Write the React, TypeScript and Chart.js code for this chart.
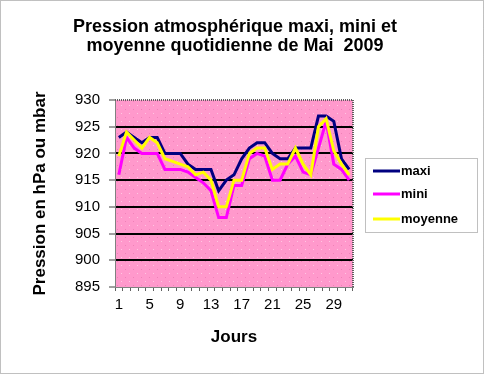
import React, { useEffect, useRef } from "react";
import { Chart, registerables } from "chart.js";

Chart.register(...registerables);

const days: string[] = Array.from({ length: 31 }, (_, i) => String(i + 1));
const maxi: number[] = [923, 924, 923, 922, 923, 923, 920, 920, 920, 918, 917, 917, 917, 913, 915, 916, 919, 921, 922, 922, 920, 919, 919, 921, 921, 921, 927, 927, 926, 919, 917];
const mini: number[] = [916, 923, 921, 920, 920, 920, 917, 917, 917, 916.5, 915.5, 914.5, 913, 908, 908, 914, 914, 919, 920, 919.5, 915, 915, 918, 919.5, 916.5, 916, 921, 926, 918, 917, 915];
const moyenne: number[] = [919.5, 924, 922.5, 921, 923, 922, 919, 918.5, 918, 917.5, 916, 916.5, 915, 910, 910, 915, 915, 920, 921, 921, 917, 918, 918, 921, 918, 916, 925, 926.5, 920.5, 918, 916];
const seriesLabels: string[] = ["maxi", "mini", "moyenne"];
const titleLines: string[] = ["Pression atmosphérique maxi, mini et", "moyenne quotidienne de Mai  2009"];
const yTitle = "Pression en hPa ou mbar";
const xTitle = "Jours";

const FONT = "'Liberation Sans', Arial, sans-serif";

function makePattern(ctx: CanvasRenderingContext2D) {
  const c = document.createElement("canvas");
  c.width = 8;
  c.height = 8;
  const p = c.getContext("2d")!;
  p.fillStyle = "#FF99CC";
  p.fillRect(0, 0, 8, 8);
  p.fillStyle = "#FFC6E2";
  p.fillRect(1, 1, 1, 1);
  p.fillStyle = "#F080B8";
  p.fillRect(5, 5, 1, 1);
  return ctx.createPattern(c, "repeat");
}

const decorPlugin = {
  id: "decor",
  beforeDraw(chart: any) {
    const { ctx, chartArea: a, width, height } = chart;
    ctx.save();
    ctx.fillStyle = "#FFFFFF";
    ctx.fillRect(0, 0, width, height);
    ctx.strokeStyle = "#808080";
    ctx.lineWidth = 1;
    ctx.setLineDash([1, 1]);
    ctx.strokeRect(0.5, 0.5, width - 1, height - 1);
    ctx.setLineDash([]);
    const pat = makePattern(ctx);
    ctx.fillStyle = pat || "#FF99CC";
    ctx.fillRect(a.left, a.top, a.right - a.left, a.bottom - a.top);
    // title
    ctx.fillStyle = "#000000";
    ctx.font = `bold 18px ${FONT}`;
    ctx.textAlign = "center";
    ctx.textBaseline = "alphabetic";
    ctx.fillText(titleLines[0], 235, 31.5);
    ctx.fillText(titleLines[1], 235, 51);
    ctx.restore();
  },
  afterDraw(chart: any) {
    const { ctx, chartArea: a } = chart;
    ctx.save();
    ctx.strokeStyle = "#606060";
    ctx.lineWidth = 2;
    ctx.setLineDash([1, 1]);
    ctx.beginPath();
    ctx.moveTo(a.left, a.top);
    ctx.lineTo(a.right, a.top);
    ctx.lineTo(a.right, a.bottom);
    ctx.stroke();
    ctx.setLineDash([]);
    // legend
    const bx = 365, by = 158, bw = 112, bh = 74;
    ctx.fillStyle = "#FFFFFF";
    ctx.fillRect(bx, by, bw, bh);
    ctx.strokeStyle = "#808080";
    ctx.lineWidth = 1;
    ctx.setLineDash([1, 1]);
    ctx.strokeRect(bx + 0.5, by + 0.5, bw, bh);
    ctx.setLineDash([]);
    const rows = [171, 194, 219];
    chart.data.datasets.forEach((ds: any, i: number) => {
      const y = rows[i];
      ctx.strokeStyle = ds.borderColor;
      ctx.lineWidth = 3;
      ctx.beginPath();
      ctx.moveTo(373, y);
      ctx.lineTo(400, y);
      ctx.stroke();
      ctx.fillStyle = "#000000";
      ctx.font = `bold 13px ${FONT}`;
      ctx.textBaseline = "middle";
      ctx.textAlign = "left";
      ctx.fillText(ds.label, 401, y);
    });
    ctx.restore();
  },
};

export default function App() {
  const ref = useRef<HTMLCanvasElement>(null);
  useEffect(() => {
    if (!ref.current) return;
    const chart = new Chart(ref.current, {
      type: "line",
      data: {
        labels: days,
        datasets: [
          { label: seriesLabels[0], data: maxi, borderColor: "#000080", backgroundColor: "#000080", borderWidth: 3, pointRadius: 0, tension: 0, order: 2 },
          { label: seriesLabels[1], data: mini, borderColor: "#FF00FF", backgroundColor: "#FF00FF", borderWidth: 3, pointRadius: 0, tension: 0, order: 1 },
          { label: seriesLabels[2], data: moyenne, borderColor: "#FFFF00", backgroundColor: "#FFFF00", borderWidth: 3, pointRadius: 0, tension: 0, order: 0 },
        ],
      },
      options: {
        animation: false,
        responsive: false,
        devicePixelRatio: 1,
        layout: { padding: { left: 0, right: 131, top: 100, bottom: 0 } },
        plugins: {
          legend: { display: false },
          tooltip: { enabled: false },
          title: { display: false },
        },
        scales: {
          x: {
            type: "category",
            offset: true,
            afterFit: (s: any) => { s.height = 87; },
            grid: { display: true, drawOnChartArea: false, drawTicks: true, tickLength: 4, offset: true, color: "#606060", tickColor: "#606060" },
            border: { display: true, color: "#808080", width: 1 },
            ticks: {
              autoSkip: false,
              maxRotation: 0,
              padding: 5,
              color: "#000000",
              font: { family: FONT, size: 15 },
              callback: (_v: any, i: number) => (i % 4 === 0 ? days[i] : ""),
            },
            title: { display: true, text: xTitle, color: "#000000", font: { family: FONT, size: 17, weight: "bold" }, padding: { top: 0, bottom: 26 } },
          },
          y: {
            min: 895,
            max: 930,
            afterFit: (s: any) => { s.width = 115; },
            grid: {
              drawTicks: true,
              tickLength: 6,
              lineWidth: 2,
              color: (c: any) => (c.tick && (c.tick.value === 930 || c.tick.value === 895) ? "rgba(0,0,0,0)" : "#000000"),
              tickColor: "#404040",
              tickWidth: 1,
            },
            border: { display: true, color: "#808080", width: 1 },
            ticks: { stepSize: 5, padding: 9, color: "#000000", font: { family: FONT, size: 15 } },
            title: { display: true, text: yTitle, color: "#000000", font: { family: FONT, size: 17, weight: "bold" }, padding: { top: 30, bottom: 0 } },
          },
        },
      },
      plugins: [decorPlugin],
    });
    return () => chart.destroy();
  }, []);
  return (
    <div style={{ position: "fixed", left: 0, top: 0, width: 484, height: 374 }}>
      <canvas ref={ref} width={484} height={374} style={{ width: 484, height: 374, display: "block" }} />
    </div>
  );
}
